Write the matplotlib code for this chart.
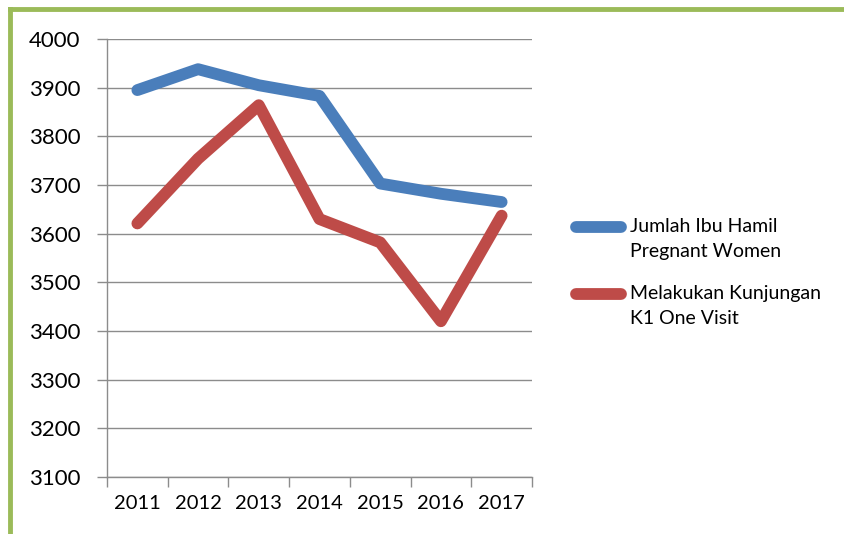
import matplotlib
matplotlib.use("Agg")
import matplotlib.pyplot as plt
from matplotlib.lines import Line2D

years = ["2011", "2012", "2013", "2014", "2015", "2016", "2017"]
ibu_hamil = [3895, 3938, 3905, 3883, 3703, 3682, 3665]
kunjungan_k1 = [3621, 3754, 3864, 3630, 3582, 3420, 3637]
series_names = ["Jumlah Ibu Hamil\nPregnant Women", "Melakukan Kunjungan\nK1 One Visit"]
yticks = [3100, 3200, 3300, 3400, 3500, 3600, 3700, 3800, 3900, 4000]

plt.rcParams['font.family'] = ['Lato', 'DejaVu Sans']
GRID = "#8c8c8c"
COLORS = ["#4a7ebb", "#be4b48"]
W, H = 845, 534

fig = plt.figure(figsize=(8.45, 5.34), dpi=100)
ax = fig.add_axes([107/W, 57/H, 425/W, 438/H])

xs = [i + 0.5 for i in range(len(years))]
for vals, c in zip([ibu_hamil, kunjungan_k1], COLORS):
    ax.plot(xs, vals, color=c, lw=8.5, solid_capstyle="round", solid_joinstyle="round")

ax.set_xlim(0, len(years))
ax.set_ylim(3100, 4000)
ax.set_yticks(yticks)
ax.set_yticklabels([str(v) for v in yticks], fontsize=16)
ax.set_xticks(range(len(years) + 1))
ax.set_xticklabels([])
ax.set_xticks(xs, minor=True)
ax.set_xticklabels(years, minor=True, fontsize=14.5)
ax.tick_params(axis="x", which="major", length=7, color=GRID, width=1)
ax.tick_params(axis="x", which="minor", length=0, pad=13)
ax.tick_params(axis="y", length=7, color=GRID, width=1, pad=12)

ax.grid(axis="y", color=GRID, lw=1)
ax.set_axisbelow(True)
for s in ["top", "right"]:
    ax.spines[s].set_visible(False)
for s in ["left", "bottom"]:
    ax.spines[s].set_color(GRID)
    ax.spines[s].set_linewidth(1)

# legend drawn by hand: handle sits on the first text line, like Excel does
legend_y = [227, 294]
for name, c, yy in zip(series_names, COLORS, legend_y):
    fig.add_artist(Line2D([576/W, 621/W], [1 - yy/H] * 2, color=c, lw=8.5,
                          solid_capstyle="round", transform=fig.transFigure))
    for j, part in enumerate(name.split("\n")):
        fig.text(630/W, 1 - (yy + j*25)/H, part, fontsize=14, va="center", ha="left")

# green frame (only top and left edges visible)
green = "#9bbb59"
fig.add_artist(Line2D([10/W, 1], [1 - 9/H, 1 - 9/H], color=green, lw=3.5, transform=fig.transFigure))
fig.add_artist(Line2D([10/W, 10/W], [0, 1 - 9/H], color=green, lw=3.5, transform=fig.transFigure,
                      solid_capstyle="projecting"))

fig.savefig("out.png", dpi=100)
